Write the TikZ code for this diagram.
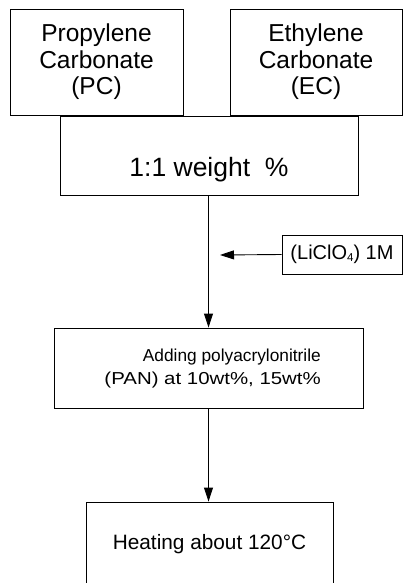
\documentclass[tikz,border=0pt]{standalone}
\usepackage{fontspec}
\setmainfont{Liberation Sans}
\usetikzlibrary{arrows.meta,calc}
\begin{document}
\begin{tikzpicture}[x=1pt,y=-1pt,
  box/.style={draw,line width=0.9pt,inner sep=0pt,align=center},
  big/.style={font=\fontsize{24.5}{26.5}\selectfont},
  conn/.style={line width=0.9pt,-{Triangle[length=14pt,width=9pt]}}]
\useasboundingbox (0,0) rectangle (403,583);
\node[box,big,minimum width=173pt,minimum height=106pt] (pc) at (96.5,62) {Propylene\\Carbonate\\(PC)};
\node[box,big,minimum width=172pt,minimum height=106pt] (ec) at (316,62) {Ethylene\\Carbonate\\(EC)};
\node[box,minimum width=298pt,minimum height=79pt] (wt) at (209,155.5) {};
\node[font=\fontsize{26.5}{28}\selectfont] (wtt) at (209,170) {1:1 weight\ \ \%};
\node[box,minimum width=309pt,minimum height=80pt] (pan) at (208.5,368) {};
\node[font=\fontsize{17.3}{23}\selectfont,align=right,anchor=east,inner sep=0pt] (pant) at (321,368.5) {Adding polyacrylonitrile\\\scalebox{1.18}[1]{(PAN) at 10wt\%, 15wt\%}};
\node[box,font=\fontsize{20}{22}\selectfont,minimum width=120pt,minimum height=39pt] (li) at (342,254.5) {(LiClO\raisebox{-0.15ex}{\fontsize{11.5}{12}\selectfont 4}) 1M};
\node[box,font=\fontsize{20.8}{24}\selectfont,minimum width=247pt,minimum height=84pt] (heat) at (209.5,544) {Heating about 120°C};
\coordinate (join) at (220,255);
\draw[conn] (wt.south -| pan.north) -- (pan.north);
\draw[conn] (li.west) -- (join);
\draw[conn] (pan.south) -- (pan.south |- heat.north);
\end{tikzpicture}
\end{document}
